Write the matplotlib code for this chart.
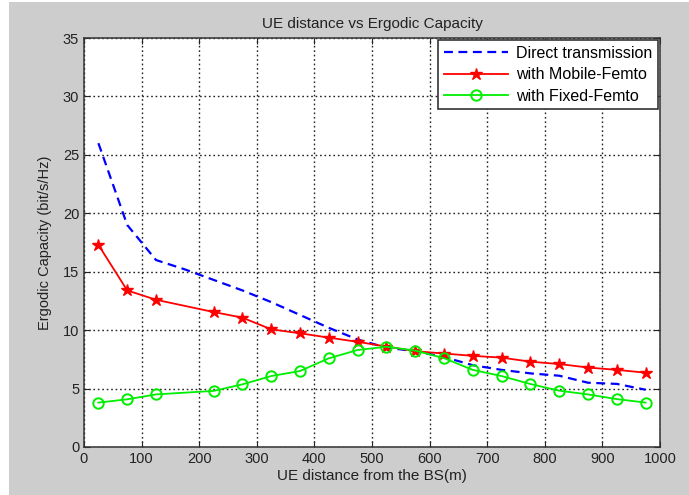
import matplotlib
matplotlib.use("Agg")
import matplotlib.pyplot as plt
from matplotlib.patches import Rectangle

plt.rcParams['font.family'] = ['Liberation Sans', 'DejaVu Sans']

x_direct = [25, 75, 125, 175, 225, 275, 325, 375, 425, 475, 525, 575, 625, 675, 725, 775, 825, 875, 925, 975]
direct = [26.0, 19.0, 16.0, 15.2, 14.3, 13.4, 12.4, 11.3, 10.2, 9.2, 8.5, 8.2, 7.7, 7.0, 6.6, 6.3, 6.1, 5.5, 5.4, 4.9]

x_femto = [25, 75, 125, 225, 275, 325, 375, 425, 475, 525, 575, 625, 675, 725, 775, 825, 875, 925, 975]
mobile = [17.3, 13.4, 12.6, 11.55, 11.07, 10.07, 9.73, 9.36, 9.0, 8.6, 8.2, 8.0, 7.8, 7.65, 7.3, 7.1, 6.8, 6.6, 6.36]
fixed = [3.8, 4.08, 4.5, 4.8, 5.36, 6.07, 6.5, 7.59, 8.3, 8.58, 8.25, 7.6, 6.6, 6.07, 5.39, 4.82, 4.5, 4.1, 3.8]

W, H = 689, 495
fig = plt.figure(figsize=(W / 100, H / 100), dpi=100, facecolor='white')
fig.patches.append(Rectangle((9 / W, 0), 1 - 9 / W, 1 - 2 / H, transform=fig.transFigure,
                             facecolor='#cdcdcd', edgecolor='none', zorder=-10))

ax = fig.add_axes([84 / W, 1 - 447 / H, (660 - 84) / W, (447 - 38) / H])
ax.set_facecolor('white')

ax.plot(x_direct, direct, '--', color='#0000ff', lw=1.6, dashes=(4, 2.5), label='Direct transmission')
ax.plot(x_femto, mobile, '-', color='#ff0000', lw=1.3, marker='*', ms=9, mec='#ff0000', mfc='#ff0000',
        label='with Mobile-Femto')
ax.plot(x_femto, fixed, '-', color='#00ee00', lw=1.3, marker='o', ms=7.5, mec='#00ee00', mfc='none',
        mew=1.4, label='with Fixed-Femto')

ax.set_xlim(0, 1000)
ax.set_ylim(0, 35)
ax.set_xticks(range(0, 1001, 100))
ax.set_yticks(range(0, 36, 5))
ax.grid(True, color='#222222', linestyle=(0, (1.2, 2)), lw=1.0)
ax.tick_params(direction='in', length=4, labelsize=10.5, colors='#222222', top=True, right=True)
for s in ax.spines.values():
    s.set_color('#333333')
    s.set_linewidth(1.1)

ax.set_title('UE distance vs Ergodic Capacity', fontsize=11, color='#222222', pad=7)
ax.set_xlabel('UE distance from the BS(m)', fontsize=11, color='#222222', labelpad=2)
ax.set_ylabel('Ergodic Capacity (bit/s/Hz)', fontsize=10.5, color='#222222', labelpad=8)

leg = ax.legend(loc='upper right', fontsize=11.5, frameon=True, fancybox=False, framealpha=1,
                edgecolor='#333333', borderaxespad=0.15, handlelength=4.0,
                borderpad=0.35, labelspacing=0.4, handletextpad=0.5)
leg.get_frame().set_linewidth(1.2)

fig.savefig('out.png', dpi=100, facecolor=fig.get_facecolor())
